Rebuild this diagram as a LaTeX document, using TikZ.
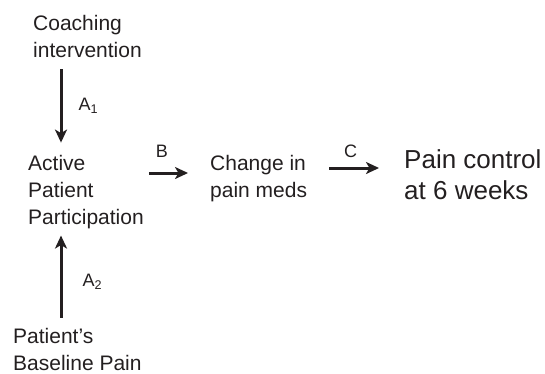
\documentclass[tikz,border=0pt]{standalone}
\usepackage{fontspec}
\setmainfont{Liberation Sans}
\usetikzlibrary{arrows.meta, positioning}

\definecolor{ink}{HTML}{231F20}

\tikzset{
    box/.style={inner sep=0pt, align=left, anchor=base west, text=ink, font=\fontsize{21}{27}\selectfont},
    bigbox/.style={box, font=\fontsize{26}{31}\selectfont},
    lbl/.style={inner sep=0pt, text=ink, font=\fontsize{18}{20}\selectfont},
    path/.style={draw=ink, line width=3pt, -{Stealth[length=13pt, width=12pt, inset=3.5pt]}},
}

\begin{document}
\begin{tikzpicture}[x=1pt, y=-1pt]
\useasboundingbox (0,0) rectangle (545,373);

% the four stages of the model (anchored on the last line)
\node[box] (coach) at (33,57) {Coaching\\intervention};
\node[box] (active) at (28,224) {Active\\Patient\\Participation};
\node[box] (meds) at (210,197) {Change in\\pain meds};
\node[bigbox] (control) at (404,199) {Pain control\\at 6 weeks};
\node[box] (baseline) at (13,370) {Patient's\\Baseline Pain};

% helper coordinates for the arrow lines
\coordinate (axisA) at (61,0);
\coordinate (levelB) at (0,173);
\coordinate (levelC) at (0,168);

% paths
\draw[path, shorten <=12pt, shorten >=12pt] (coach.south -| axisA) -- (active.north -| axisA)
    node[lbl, midway, anchor=west, xshift=16pt] {A\textsubscript{1}};
\draw[path, shorten <=5pt, shorten >=22pt] (active.east |- levelB) -- (meds.west |- levelB)
    node[lbl, midway, anchor=base, xshift=-15pt, yshift=16pt] {B};
\draw[path, shorten <=22pt, shorten >=25pt] (meds.east |- levelC) -- (control.west |- levelC)
    node[lbl, midway, anchor=base, xshift=-5pt, yshift=11pt] {C};
\draw[path, shorten <=10pt, shorten >=7pt] (baseline.north -| axisA) -- (active.south -| axisA)
    node[lbl, midway, anchor=west, xshift=20pt, yshift=-4pt] {A\textsubscript{2}};
\end{tikzpicture}
\end{document}
